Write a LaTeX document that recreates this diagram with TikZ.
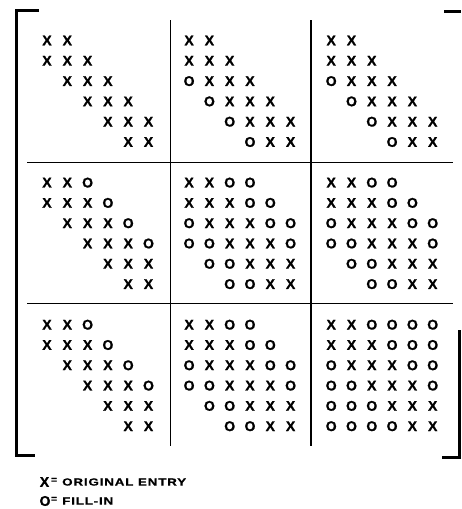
\documentclass[tikz,border=0pt]{standalone}
\usepackage{fontspec}
\setmainfont{Liberation Sans}
\newfontfamily\entfont[FakeBold=1.2]{Liberation Sans Bold}
\newfontfamily\legfont[FakeStretch=1.3,LetterSpace=8,FakeBold=0.8]{Liberation Sans Bold}
\tikzset{
  ent/.style={font=\entfont\fontsize{14}{14}\selectfont, inner sep=0pt},
  gridline/.style={line width=1.2pt},
  brack/.style={line width=3pt},
  legtext/.style={font=\legfont\fontsize{10.3}{11}\selectfont, inner sep=0pt, anchor=west},
  legeq/.style={font=\entfont\fontsize{10}{10}\selectfont, inner sep=0pt}
}
\newcommand\mrow[4]{%
  \foreach \ch [count=\k from 0] in {#4}{%
    \pgfmathsetmacro\xx{47+20.3*(7*#2+\k)}%
    \pgfmathsetmacro\yy{40.5+20.3*(7*#1+#3)}%
    \if\ch X\node[ent] (x#1#2#3\k) at (\xx,\yy) {X};\fi
    \if\ch O\node[ent] (o#1#2#3\k) at (\xx,\yy) {O};\fi
  }}
\newcommand\blk[8]{\mrow{#1}{#2}{0}{#3}\mrow{#1}{#2}{1}{#4}\mrow{#1}{#2}{2}{#5}%
  \mrow{#1}{#2}{3}{#6}\mrow{#1}{#2}{4}{#7}\mrow{#1}{#2}{5}{#8}}
\begin{document}
\begin{tikzpicture}[x=1pt,y=-1pt]
\useasboundingbox[fill=white] (0,0) rectangle (461,509);
% brackets
\draw[brack] (39,10) -- (16,10) -- (16,455) -- (35,455);
\draw[brack] (444,11) -- (461,11);
\draw[brack] (459.5,330) -- (459.5,457) -- (442,457);
% grid lines
\draw[gridline] (170.5,20) -- (170.5,446);
\draw[gridline] (311,20) -- (311,446);
\draw[gridline] (27,162.5) -- (453,162.5);
\draw[gridline] (27,303.5) -- (453,303.5);
% blocks
\blk{0}{0}{X,X,.,.,.,.}{X,X,X,.,.,.}{.,X,X,X,.,.}{.,.,X,X,X,.}{.,.,.,X,X,X}{.,.,.,.,X,X}
\blk{0}{1}{X,X,.,.,.,.}{X,X,X,.,.,.}{O,X,X,X,.,.}{.,O,X,X,X,.}{.,.,O,X,X,X}{.,.,.,O,X,X}
\blk{0}{2}{X,X,.,.,.,.}{X,X,X,.,.,.}{O,X,X,X,.,.}{.,O,X,X,X,.}{.,.,O,X,X,X}{.,.,.,O,X,X}
\blk{1}{0}{X,X,O,.,.,.}{X,X,X,O,.,.}{.,X,X,X,O,.}{.,.,X,X,X,O}{.,.,.,X,X,X}{.,.,.,.,X,X}
\blk{1}{1}{X,X,O,O,.,.}{X,X,X,O,O,.}{O,X,X,X,O,O}{O,O,X,X,X,O}{.,O,O,X,X,X}{.,.,O,O,X,X}
\blk{1}{2}{X,X,O,O,.,.}{X,X,X,O,O,.}{O,X,X,X,O,O}{O,O,X,X,X,O}{.,O,O,X,X,X}{.,.,O,O,X,X}
\blk{2}{0}{X,X,O,.,.,.}{X,X,X,O,.,.}{.,X,X,X,O,.}{.,.,X,X,X,O}{.,.,.,X,X,X}{.,.,.,.,X,X}
\blk{2}{1}{X,X,O,O,.,.}{X,X,X,O,O,.}{O,X,X,X,O,O}{O,O,X,X,X,O}{.,O,O,X,X,X}{.,.,O,O,X,X}
\blk{2}{2}{X,X,O,O,O,O}{X,X,X,O,O,O}{O,X,X,X,O,O}{O,O,X,X,X,O}{O,O,O,X,X,X}{O,O,O,O,X,X}
% legend
\node[ent] (lx) at (44.5,482) {X};
\node[legeq] (leq1) at (54,480.5) {=};
\node[legtext] (lt1) at (62,482) {ORIGINAL ENTRY};
\node[ent] (lo) at (45,501) {O};
\node[legeq] (leq2) at (54,499.5) {=};
\node[legtext] (lt2) at (62,501) {FILL-IN};
\end{tikzpicture}
\end{document}
